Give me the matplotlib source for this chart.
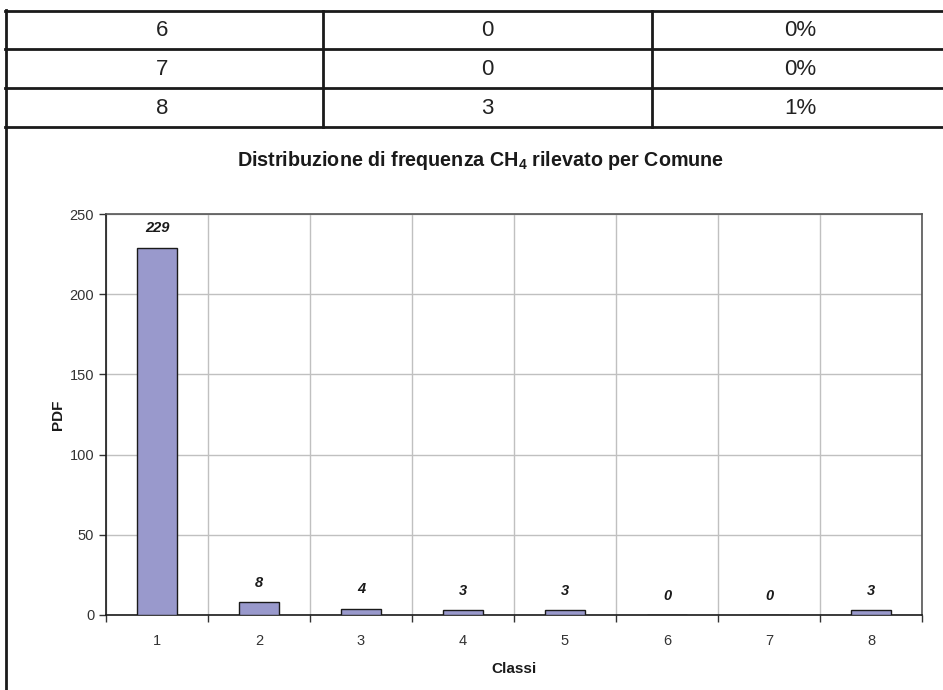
import matplotlib
matplotlib.use("Agg")
import matplotlib.pyplot as plt
from matplotlib.lines import Line2D
import numpy as np

plt.rcParams['font.family'] = ['Liberation Sans', 'DejaVu Sans']
plt.rcParams['mathtext.fontset'] = 'custom'
plt.rcParams['mathtext.bf'] = 'Liberation Sans:bold'
plt.rcParams['mathtext.rm'] = 'Liberation Sans'

# Table data (top)
tab_classes = ['6', '7', '8']
tab_counts = ['0', '0', '3']
tab_perc = ['0%', '0%', '1%']

# Chart data
classes = ['1', '2', '3', '4', '5', '6', '7', '8']
counts = [229, 8, 4, 3, 3, 0, 0, 3]

W, H = 943, 690
fig = plt.figure(figsize=(W / 100, H / 100), dpi=100)

def fx(x):
    return x / W

def fy(y):
    return 1 - y / H

# table lines
lw = 2.0
row_y = [11, 49, 88, 127]
for y in row_y:
    fig.add_artist(Line2D([fx(5), 1], [fy(y), fy(y)], color='#1a1a1a', lw=lw))
fig.add_artist(Line2D([fx(6), fx(6)], [fy(10), 0], color='#1a1a1a', lw=lw))
for x in [323, 652]:
    fig.add_artist(Line2D([fx(x), fx(x)], [fy(11), fy(127)], color='#1a1a1a', lw=lw))
col_x = [162, 487, 800]
for i in range(3):
    yc = (row_y[i] + row_y[i + 1]) / 2 + 1
    for cx, txt in zip(col_x, [tab_classes[i], tab_counts[i], tab_perc[i]]):
        fig.text(fx(cx), fy(yc), txt, ha='center', va='center', fontsize=16, color='#222222')

# chart
left, right, top, bottom = 106, 922, 214, 615
ax = fig.add_axes([fx(left), fy(bottom), fx(right - left), (bottom - top) / H])
x = np.arange(len(classes))
ax.bar(x, counts, width=0.4, color='#9999cc', edgecolor='#1a1a1a', linewidth=1.0, zorder=3)
ax.set_xlim(-0.5, len(classes) - 0.5)
ax.set_ylim(0, 250)
ax.set_yticks(np.arange(0, 251, 50))
ax.set_xticks(x)
ax.set_xticklabels(classes)
ax.set_xticks(np.arange(-0.5, len(classes), 1), minor=True)
ax.tick_params(axis='x', which='major', length=0, pad=14, labelsize=10.5, colors='#333333')
ax.tick_params(axis='x', which='minor', length=5, width=1, color='#333333')
ax.tick_params(axis='y', length=5, width=1, labelsize=10.5, colors='#333333')
ax.grid(True, which='minor', axis='x', color='#c0c0c0', lw=1, zorder=0)
ax.grid(True, which='major', axis='y', color='#c0c0c0', lw=1, zorder=0)
for s in ['top', 'right']:
    ax.spines[s].set_color('#555555')
    ax.spines[s].set_linewidth(1.2)
for s in ['left', 'bottom']:
    ax.spines[s].set_color('#1a1a1a')
    ax.spines[s].set_linewidth(1.2)
for xi, v in zip(x, counts):
    ax.annotate(str(v), (xi, v), xytext=(0, 9), textcoords='offset points',
                ha='center', va='bottom', fontsize=10.5, fontweight='bold', fontstyle='italic',
                color='#1a1a1a')
ax.set_xlabel('Classi', fontsize=11, fontweight='bold', color='#1a1a1a', labelpad=10)
ax.set_ylabel('PDF', fontsize=11, fontweight='bold', color='#1a1a1a', labelpad=3)
fig.text(fx(481), fy(160), r'Distribuzione di frequenza CH$_\mathbf{4}$ rilevato per Comune',
         ha='center', va='center', fontsize=14.2, fontweight='bold', color='#1a1a1a')

fig.savefig('out.png', dpi=100)
